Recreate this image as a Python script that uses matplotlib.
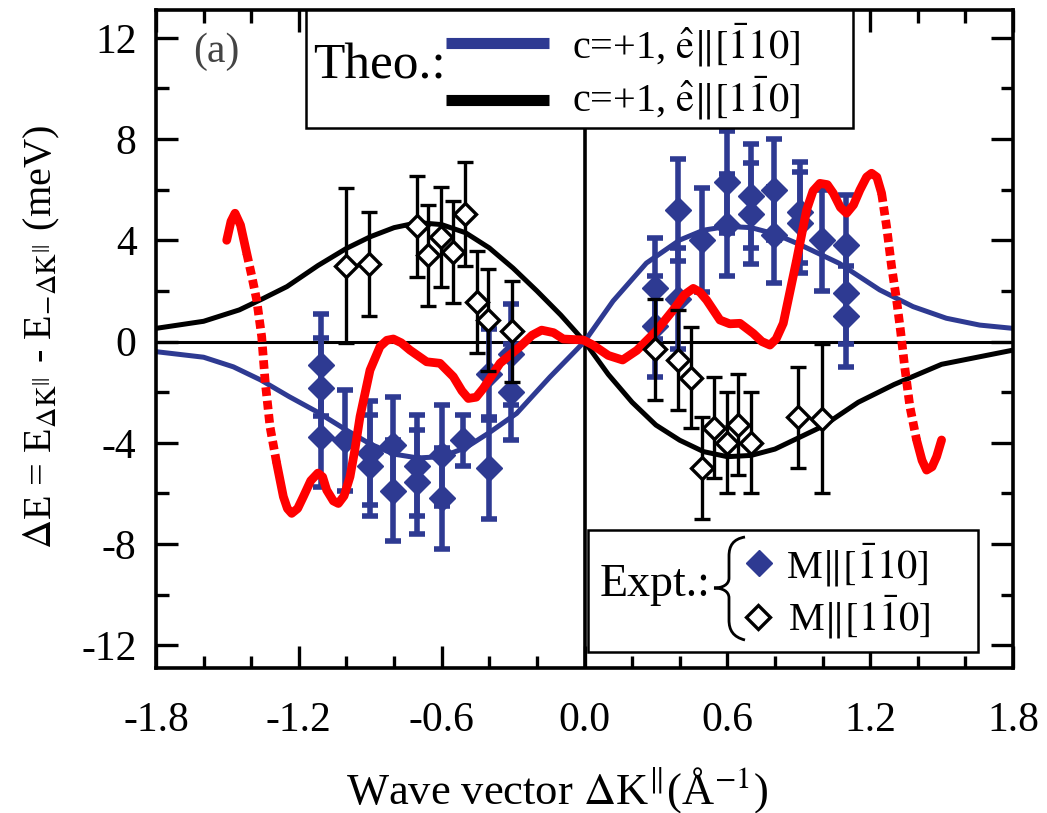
import matplotlib
matplotlib.use('Agg')
import matplotlib.pyplot as plt
from matplotlib.lines import Line2D
from matplotlib.patches import Rectangle, PathPatch
from matplotlib.path import Path
from matplotlib.ticker import MultipleLocator, FixedLocator
import numpy as np

plt.rcParams['font.family'] = ['Liberation Serif', 'DejaVu Serif']
plt.rcParams['mathtext.fontset'] = 'stix'
plt.rcParams['axes.unicode_minus'] = False

BLUE = '#2E3A92'
RED = '#FF0000'

# ---------------- data ----------------
theo_black_x = [-1.8, -1.6, -1.45, -1.35, -1.25, -1.12, -1.0, -0.9, -0.8, -0.7, -0.6, -0.5, -0.4,
                -0.3, -0.2, -0.1, 0.0, 0.1, 0.2, 0.3, 0.4, 0.5, 0.6, 0.7, 0.8, 0.9, 1.0, 1.15,
                1.3, 1.5, 1.8]
theo_black_y = [0.52, 0.8, 1.25, 1.7, 2.17, 3.0, 3.68, 4.14, 4.5, 4.7, 4.62, 4.3, 3.7,
                2.9, 2.0, 1.05, 0.0, -1.3, -2.4, -3.3, -3.9, -4.35, -4.55, -4.5, -4.25, -3.8, -3.35, -2.4,
                -1.7, -0.9, -0.34]

theo_blue_x = [-1.8, -1.6, -1.475, -1.36, -1.24, -1.125, -1.0, -0.9, -0.8, -0.7, -0.6, -0.5, -0.4,
               -0.285, -0.145, 0.0, 0.12, 0.26, 0.4, 0.5, 0.6, 0.7, 0.8, 0.9, 1.07, 1.24, 1.38,
               1.52, 1.66, 1.8]
theo_blue_y = [-0.4, -0.62, -1.0, -1.52, -2.18, -2.77, -3.5, -4.05, -4.45, -4.6, -4.55, -4.2, -3.6,
               -2.84, -1.4, 0.0, 1.6, 3.1, 4.01, 4.4, 4.55, 4.5, 4.25, 3.85, 3.09, 2.04, 1.38,
               0.92, 0.65, 0.52]

red_x = [-1.503, -1.485, -1.468, -1.445, -1.419, -1.398, -1.377, -1.356, -1.342, -1.321, -1.293,
         -1.265, -1.248, -1.23, -1.205, -1.181, -1.15, -1.12, -1.1, -1.083, -1.055, -1.034, -1.01,
         -0.985, -0.965, -0.943, -0.901, -0.859, -0.83, -0.803, -0.77,
         -0.733, -0.663, -0.607, -0.551, -0.515, -0.488, -0.455, -0.425, -0.355, -0.271, -0.22,
         -0.18, -0.13, -0.089, -0.005,
         0.036, 0.1, 0.16, 0.22, 0.3, 0.373, 0.42, 0.457, 0.485, 0.513, 0.569, 0.61, 0.653, 0.709,
         0.745, 0.779, 0.805, 0.835, 0.891, 0.933, 0.96, 0.989, 1.02, 1.045, 1.075, 1.101, 1.13,
         1.157, 1.185, 1.206, 1.228, 1.248, 1.269, 1.29, 1.311, 1.328,
         1.345, 1.367, 1.395, 1.418, 1.437, 1.46, 1.479, 1.5]
red_y = [4.0, 4.75, 5.07, 4.6, 3.49, 2.6, 1.64, 0.19, -1.52, -3.37, -4.81,
         -6.13, -6.6, -6.79, -6.6, -6.13, -5.5, -5.2, -5.35, -5.87, -6.3, -6.4, -6.1,
         -5.34, -4.3, -2.97, -1.13, -0.2, 0.05, 0.1, -0.05,
         -0.34, -0.8, -0.86, -1.39, -1.95, -2.25, -2.2, -1.85, -0.86, -0.2, 0.25,
         0.45, 0.35, 0.1, 0.06,
         -0.14, -0.55, -0.73, -0.35, 0.4, 1.25, 1.85, 2.1, 1.95, 1.64, 0.85, 0.7, 0.72, 0.32,
         0.0, -0.14, 0.1, 0.72, 3.22, 5.2, 5.95, 6.25, 6.2, 5.86, 5.3, 5.07, 5.4,
         5.99, 6.5, 6.65, 6.5, 5.86, 4.54, 2.96, 1.64, 0.39,
         -1.0, -2.58, -3.89, -4.7, -5.08, -4.95, -4.55, -3.89]

blue_x = [-1.107, -1.107, -1.107, -1.006, -0.901, -0.901, -0.803, -0.803, -0.705, -0.705,
          -0.6, -0.6, -0.509, -0.4, -0.4, -0.308, -0.308,
          0.296, 0.296, 0.394, 0.394, 0.492, 0.597, 0.597, 0.698, 0.698, 0.796, 0.796,
          0.905, 0.905, 0.996, 1.1, 1.1, 1.1]
blue_y = [-0.93, -1.85, -3.76, -3.9, -4.4, -4.9, -4.1, -5.9, -4.9, -5.55,
          -4.5, -6.2, -3.9, -1.3, -5.0, -0.5, -2.0,
          2.1, 0.6, 5.2, 1.7, 4.0, 6.3, 4.6, 5.75, 5.05, 6.0, 4.2,
          5.1, 4.7, 4.0, 3.8, 1.9, 1.0]
blue_err = [2.0, 2.0, 2.0, 2.0, 2.05, 2.0, 1.9, 2.0, 2.0, 2.05,
            2.0, 2.0, 1.0, 1.8, 2.0, 2.0, 1.9,
            2.0, 2.0, 2.0, 2.0, 2.05, 2.0, 2.0, 2.05, 2.0, 2.0, 1.9,
            2.0, 2.0, 2.0, 2.0, 2.0, 2.0]

open_x = [-1.0, -0.904, -0.705, -0.656, -0.604, -0.554, -0.502, -0.453, -0.404, -0.304,
          0.296, 0.394, 0.446, 0.492, 0.545, 0.597, 0.646, 0.698, 0.898, 0.996]
open_y = [3.0, 3.05, 4.55, 3.4, 4.13, 3.54, 5.04, 1.56, 0.85, 0.4,
          -0.3, -0.73, -1.43, -5.0, -3.41, -3.99, -3.28, -4.0, -3.0, -3.05]
open_err = [3.05, 2.05, 2.0, 2.0, 1.96, 2.0, 2.06, 2.0, 2.0, 2.0,
            2.0, 1.98, 2.0, 2.0, 2.0, 2.0, 2.0, 2.0, 2.0, 2.95]

xtick_vals = [-1.8, -1.2, -0.6, 0.0, 0.6, 1.2, 1.8]
xtick_labels = ['-1.8', '-1.2', '-0.6', '0.0', '0.6', '1.2', '1.8']
ytick_vals = [-12, -8, -4, 0, 4, 8, 12]
ytick_labels = ['-12', '-8', '-4', '0', '4', '8', '12']

# ---------------- figure ----------------
W, H = 1047, 813
fig = plt.figure(figsize=(W / 100, H / 100), dpi=100)
ax = fig.add_axes([156 / W, 1 - 668 / H, 857 / W, 658 / H])
ax.set_xlim(-1.8, 1.8)
ax.set_ylim(-12.9, 13.1)

ax.axhline(0, color='k', lw=2.2, zorder=1.5)
ax.axvline(0, color='k', lw=2.6, zorder=1.5)

ax.plot(theo_blue_x, theo_blue_y, color=BLUE, lw=3.6, zorder=2)
ax.plot(theo_black_x, theo_black_y, color='k', lw=3.6, zorder=2)

ax.errorbar(blue_x, blue_y, yerr=blue_err, fmt='D', color=BLUE, ms=13, mec=BLUE,
            elinewidth=4.0, capsize=6, capthick=4.0, zorder=3)

# red curve: solid where it is flat, dotted where it is steep
rx = np.array(red_x)
ry = np.array(red_y)
i1 = int(np.where(rx == -1.419)[0][0])
i2 = int(np.where(rx == -1.293)[0][0])
i3 = int(np.where(rx == 1.248)[0][0])
i4 = int(np.where(rx == 1.395)[0][0])
solid_kw = dict(color=RED, lw=6.3, solid_capstyle='round', solid_joinstyle='round', zorder=4)
dot_kw = dict(color=RED, lw=6.3, ls=(0, (1.0, 0.55)), dash_capstyle='butt', zorder=4)
ax.plot(rx[:i1 + 1], ry[:i1 + 1], **solid_kw)
ax.plot(rx[i1:i2 + 1], ry[i1:i2 + 1], **dot_kw)
ax.plot(rx[i2:i3 + 1], ry[i2:i3 + 1], **solid_kw)
ax.plot(rx[i3:i4 + 1], ry[i3:i4 + 1], **dot_kw)
ax.plot(rx[i4:], ry[i4:], **solid_kw)

ax.errorbar(open_x, open_y, yerr=open_err, fmt='D', color='k', ms=11, mfc='white', mec='k',
            mew=2.4, elinewidth=2.4, capsize=5.5, capthick=2.4, zorder=5)

ax.xaxis.set_major_locator(FixedLocator(xtick_vals))
ax.set_xticklabels(xtick_labels)
ax.xaxis.set_minor_locator(MultipleLocator(0.2))
ax.yaxis.set_major_locator(FixedLocator(ytick_vals))
ax.set_yticklabels(ytick_labels)
ax.yaxis.set_minor_locator(MultipleLocator(2))
ax.tick_params(which='both', direction='in', top=True, right=True, width=2.4, labelsize=30)
ax.tick_params(which='major', length=16)
ax.tick_params(which='minor', length=9)
ax.tick_params(axis='x', pad=24)
ax.tick_params(axis='y', pad=14)
for s in ax.spines.values():
    s.set_linewidth(2.6)


def P(x, y):
    return (x / W, 1 - y / H)


fig.text(*P(557, 790), r'Wave vector $\Delta$K$^{\Vert}$(Å$^{-1}$)', fontsize=32,
         ha='center', va='center')
fig.text(*P(42, 337),
         r'$\Delta$E = E$_{\Delta \mathrm{K}^{\Vert}}$ - E$_{-\Delta \mathrm{K}^{\Vert}}$ (meV)',
         fontsize=29, rotation=90, ha='center', va='center')

fig.text(*P(193, 52), '(a)', fontsize=30, color='#444444', va='center', ha='left')

# Theo legend
fig.add_artist(Rectangle(P(306, 128), 547 / W, 118 / H, transform=fig.transFigure,
                         fc='white', ec='k', lw=1.8, zorder=10))
fig.text(*P(313, 66), 'Theo.:', fontsize=37, va='center', ha='left', zorder=11)
fig.add_artist(Line2D([446 / W, 549 / W], [1 - 43 / H] * 2, transform=fig.transFigure,
                      color=BLUE, lw=8, solid_capstyle='butt', zorder=11))
fig.add_artist(Line2D([446 / W, 549 / W], [1 - 100 / H] * 2, transform=fig.transFigure,
                      color='k', lw=8, solid_capstyle='butt', zorder=11))
fig.text(*P(572, 45), r'c=+1, $\hat{\mathrm{e}}\Vert[\bar{1}10]$', fontsize=29,
         va='center', ha='left', zorder=11)
fig.text(*P(572, 98), r'c=+1, $\hat{\mathrm{e}}\Vert[1\bar{1}0]$', fontsize=29,
         va='center', ha='left', zorder=11)

# Expt legend
fig.add_artist(Rectangle(P(588, 652), 390 / W, 122 / H, transform=fig.transFigure,
                         fc='white', ec='k', lw=1.8, zorder=10))
fig.text(*P(600, 585), 'Expt.:', fontsize=33, va='center', ha='left', zorder=11)

brace_px = [(745, 537), (733, 539), (729, 546), (729, 556), (729, 578),
            (729, 585), (722, 588), (714, 588), (722, 588), (729, 591), (729, 598),
            (729, 620), (729, 630), (733, 637), (745, 640)]
brace_codes = [Path.MOVETO, Path.CURVE4, Path.CURVE4, Path.CURVE4, Path.LINETO,
               Path.CURVE4, Path.CURVE4, Path.CURVE4, Path.CURVE4, Path.CURVE4, Path.CURVE4,
               Path.LINETO, Path.CURVE4, Path.CURVE4, Path.CURVE4]
brace = Path([P(x, y) for x, y in brace_px], brace_codes)
fig.add_artist(PathPatch(brace, transform=fig.transFigure, fc='none', ec='k', lw=2.0,
                         zorder=11))

fig.add_artist(Line2D([759 / W], [1 - 563 / H], transform=fig.transFigure, marker='D', ms=13,
                      color=BLUE, ls='none', zorder=11))
fig.add_artist(Line2D([758 / W], [1 - 617 / H], transform=fig.transFigure, marker='D', ms=12,
                      mfc='white', mec='k', mew=2.4, ls='none', zorder=11))
fig.text(*P(786, 565), r'M$\Vert[\bar{1}10]$', fontsize=29, va='center', ha='left', zorder=11)
fig.text(*P(788, 617), r'M$\Vert[1\bar{1}0]$', fontsize=29, va='center', ha='left', zorder=11)

fig.savefig('out.png', dpi=100)
